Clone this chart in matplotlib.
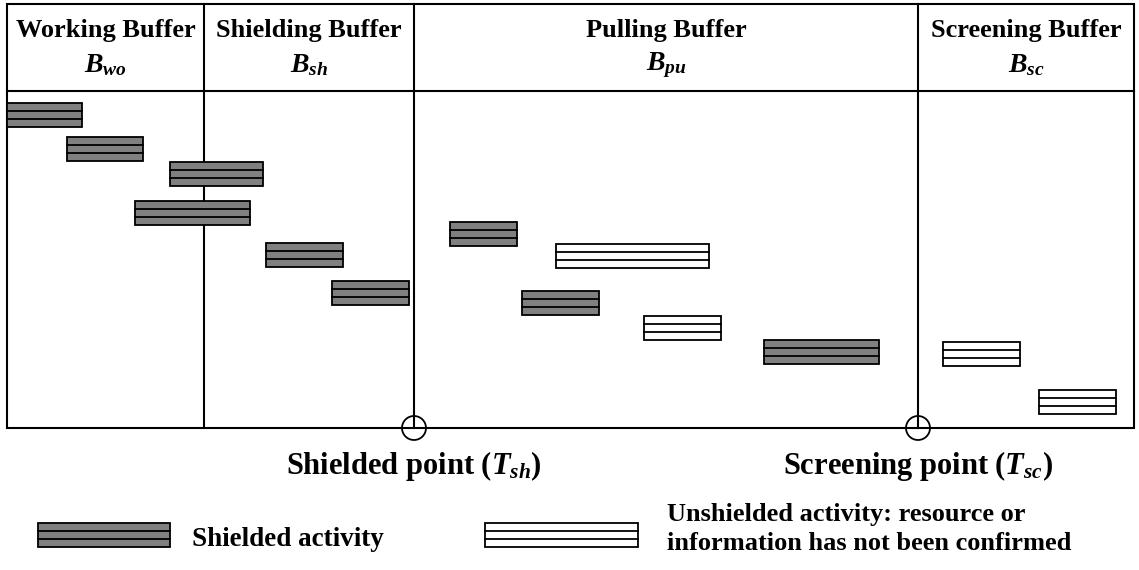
import matplotlib
matplotlib.use('Agg')
import matplotlib.pyplot as plt
from matplotlib.patches import Rectangle, Circle

plt.rcParams['font.family'] = ['Liberation Serif', 'DejaVu Serif']
plt.rcParams['font.weight'] = 'bold'
plt.rcParams['mathtext.fontset'] = 'custom'
plt.rcParams['mathtext.rm'] = 'Liberation Serif:bold'
plt.rcParams['mathtext.it'] = 'Liberation Serif:italic:bold'
plt.rcParams['mathtext.bf'] = 'Liberation Serif:bold'

# buffer columns (diagram units = pixels)
buffer_names = ['Working Buffer', 'Shielding Buffer', 'Pulling Buffer', 'Screening Buffer']
buffer_symbols = [r'$B_{wo}$', r'$B_{sh}$', r'$B_{pu}$', r'$B_{sc}$']
buffer_edges = [7, 204, 414, 918, 1134]

# activities: start, end, top, shielded?
act_start = [7, 67, 170, 135, 266, 332, 450, 556, 522, 644, 764, 943, 1039]
act_end = [82, 143, 263, 250, 343, 409, 517, 709, 599, 721, 879, 1020, 1116]
act_top = [103, 137, 162, 201, 243, 281, 222, 244, 291, 316, 340, 342, 390]
act_shielded = [True, True, True, True, True, True, True, False, True, False, True, False, False]

points_x = [414, 918]
points_labels = [r'Shielded point ($T_{sh}$)', r'Screening point ($T_{sc}$)']

BAR_H = 24
GREY = '#808080'


def draw_bar(ax, x0, x1, y0, shielded):
    face = GREY if shielded else 'white'
    ax.add_patch(Rectangle((x0, y0), x1 - x0, BAR_H, facecolor=face,
                           edgecolor='black', lw=1.3, zorder=3))
    for k in (1, 2):
        yy = y0 + k * BAR_H / 3
        ax.plot([x0, x1], [yy, yy], color='black', lw=1.3, zorder=4)


fig = plt.figure(figsize=(11.39, 5.70), dpi=100)
ax = fig.add_axes([0, 0, 1, 1])
ax.set_xlim(0, 1139)
ax.set_ylim(570, 0)
ax.axis('off')

top, head, bottom = 4, 91, 428
left, right = buffer_edges[0], buffer_edges[-1]
ax.add_patch(Rectangle((left, top), right - left, bottom - top, fill=False,
                       edgecolor='black', lw=1.5, zorder=2))
ax.plot([left, right], [head, head], color='black', lw=1.5, zorder=2)
for xe in buffer_edges[1:-1]:
    ax.plot([xe, xe], [top, bottom], color='black', lw=1.5, zorder=2)

for i, (name, sym) in enumerate(zip(buffer_names, buffer_symbols)):
    cx = (buffer_edges[i] + buffer_edges[i + 1]) / 2
    ax.text(cx, 31, name, ha='center', va='center', fontsize=19, fontweight='bold')
    ax.text(cx, 65, sym, ha='center', va='center', fontsize=20)

for x0, x1, y0, sh in zip(act_start, act_end, act_top, act_shielded):
    draw_bar(ax, x0, x1, y0, sh)

for px, lab in zip(points_x, points_labels):
    ax.add_patch(Circle((px, bottom), 12, fill=False, edgecolor='black', lw=1.3, zorder=5))
    ax.text(px, 466, lab, ha='center', va='center', fontsize=22, fontweight='bold')

# legend
draw_bar(ax, 38, 170, 523, True)
ax.text(192, 539, 'Shielded activity', ha='left', va='center', fontsize=19.5, fontweight='bold')
draw_bar(ax, 485, 638, 523, False)
ax.text(667, 529, 'Unshielded activity: resource or\ninformation has not been confirmed',
        ha='left', va='center', fontsize=19, fontweight='bold', linespacing=1.3)

fig.savefig('out.png', dpi=100)
